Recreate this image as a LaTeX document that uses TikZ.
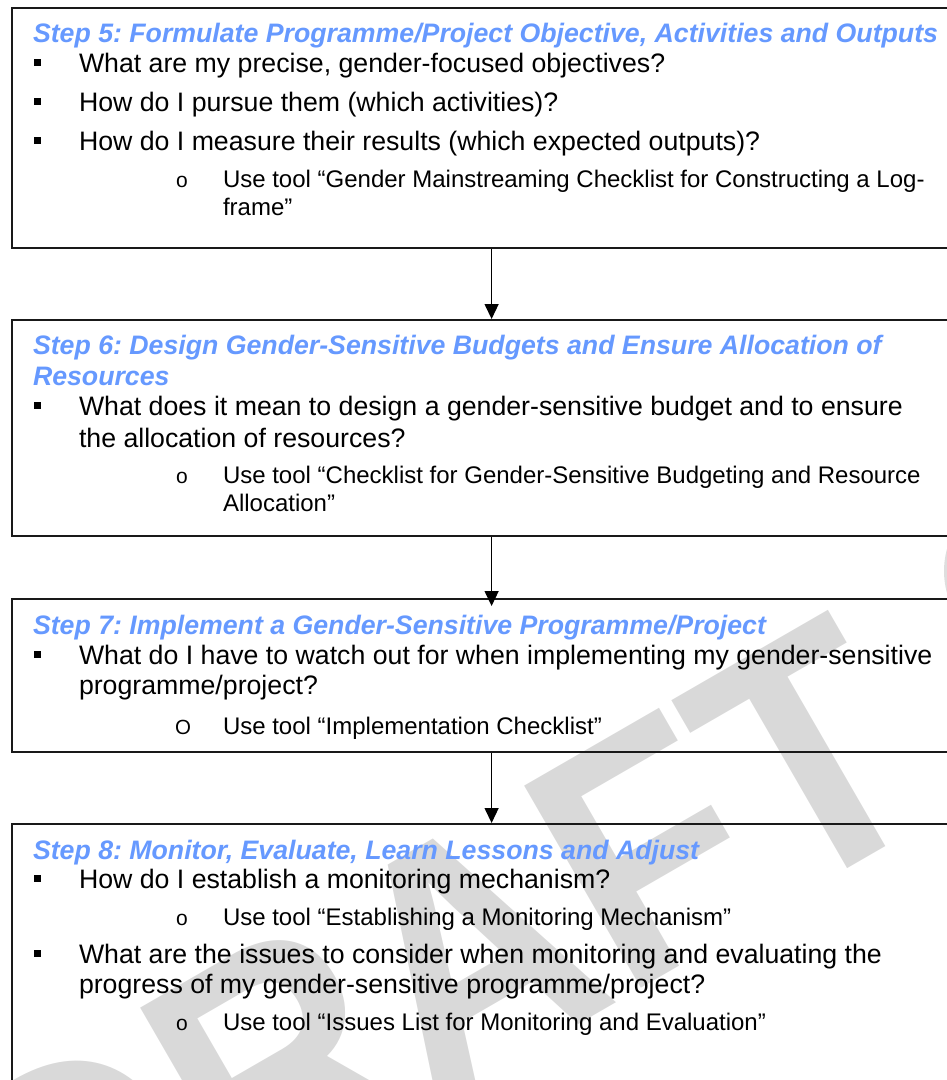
\documentclass[tikz,border=0pt]{standalone}
\usepackage{fontspec}
\setmainfont{Liberation Sans}
\usetikzlibrary{arrows.meta}
\definecolor{steptitle}{RGB}{102,153,255}
\definecolor{wmgray}{RGB}{217,217,217}
\definecolor{edgegray}{RGB}{222,222,222}
\definecolor{boxline}{RGB}{25,25,25}
\frenchspacing
\tikzset{
  x=1pt, y=-1pt,
  txt/.style={anchor=base west, inner sep=0pt, outer sep=0pt},
  steptitle/.style={txt, text=steptitle, font=\fontsize{26.7}{31}\selectfont\bfseries\itshape},
  body/.style={txt, font=\fontsize{26.7}{31}\selectfont},
  subtext/.style={txt, font=\fontsize{24}{27}\selectfont},
  subbullet/.style={txt, font=\fontsize{21}{24}\selectfont},
  bigsubbullet/.style={txt, font=\fontsize{20.5}{24}\selectfont},
  sq/.style={fill=black, draw=none, minimum size=7pt, inner sep=0pt},
  stepbox/.style={draw=boxline, line width=2.2pt, anchor=north west, minimum width=960pt, inner sep=0pt},
  arr/.style={line width=1.4pt, -{Triangle[width=14pt,length=15pt]}},
  wm/.style={anchor=base west, inner sep=0pt, text=wmgray, rotate=30, yscale=1.105, font=\fontsize{307}{310}\selectfont\bfseries}
}
\begin{document}
\begin{tikzpicture}
\useasboundingbox (0,0) rectangle (947,1080);
\clip (0,0) rectangle (947,1080);
% watermark
\node[wm] (wm) at (47,1331) {DRAFT};
\fill[edgegray] (1026,571) circle[radius=82pt];
% boxes
\node[stepbox, minimum height=240pt] (b5) at (10.5,7) {};
\node[stepbox, minimum height=216pt] (b6) at (10.5,319) {};
\node[stepbox, minimum height=153pt] (b7) at (10.5,598) {};
\node[stepbox, minimum height=300pt] (b8) at (10.5,823) {};
\coordinate (b7in) at ([yshift=-8pt]b7.north);
\draw[arr] (b5.south) -- (b6.north);
\draw[arr] (b6.south) -- (b7in);
\draw[arr] (b7.south) -- (b8.north);
% Step 5
\node[steptitle] (t5) at (33,42) {Step 5: Formulate Programme/Project Objective, Activities and Outputs};
\node[sq] (s5a) at (37,62.5) {};
\node[body] (q5a) at (79,72) {What are my precise, gender-focused objectives?};
\node[sq] (s5b) at (37,101.5) {};
\node[body] (q5b) at (79,111) {How do I pursue them (which activities)?};
\node[sq] (s5c) at (37,140.5) {};
\node[body] (q5c) at (79,150) {How do I measure their results (which expected outputs)?};
\node[subbullet] (o5) at (176,187) {o};
\node[subtext] (u5a) at (223,187) {Use tool “Gender Mainstreaming Checklist for Constructing a Log-};
\node[subtext] (u5b) at (223,215) {frame”};
% Step 6
\node[steptitle] (t6a) at (33,354) {Step 6: Design Gender-Sensitive Budgets and Ensure Allocation of};
\node[steptitle] (t6b) at (33,385) {Resources};
\node[sq] (s6a) at (37,405.5) {};
\node[body] (q6a) at (79,415) {What does it mean to design a gender-sensitive budget and to ensure};
\node[body] (q6b) at (79,447) {the allocation of resources?};
\node[subbullet] (o6) at (176,483) {o};
\node[subtext] (u6a) at (223,483) {Use tool “Checklist for Gender-Sensitive Budgeting and Resource};
\node[subtext] (u6b) at (223,511) {Allocation”};
% Step 7
\node[steptitle] (t7) at (33,634) {Step 7: Implement a Gender-Sensitive Programme/Project};
\node[sq] (s7a) at (37,654.5) {};
\node[body] (q7a) at (79,664) {What do I have to watch out for when implementing my gender-sensitive};
\node[body] (q7b) at (79,694) {programme/project?};
\node[bigsubbullet] (o7) at (175,734) {O};
\node[subtext] (u7) at (223,734) {Use tool “Implementation Checklist”};
% Step 8
\node[steptitle] (t8) at (33,859) {Step 8: Monitor, Evaluate, Learn Lessons and Adjust};
\node[sq] (s8a) at (37,878.5) {};
\node[body] (q8a) at (79,888) {How do I establish a monitoring mechanism?};
\node[subbullet] (o8a) at (176,925) {o};
\node[subtext] (u8a) at (223,925) {Use tool “Establishing a Monitoring Mechanism”};
\node[sq] (s8b) at (37,953.5) {};
\node[body] (q8b) at (79,963) {What are the issues to consider when monitoring and evaluating the};
\node[body] (q8c) at (79,993) {progress of my gender-sensitive programme/project?};
\node[subbullet] (o8b) at (176,1030) {o};
\node[subtext] (u8b) at (223,1030) {Use tool “Issues List for Monitoring and Evaluation”};
\end{tikzpicture}
\end{document}
